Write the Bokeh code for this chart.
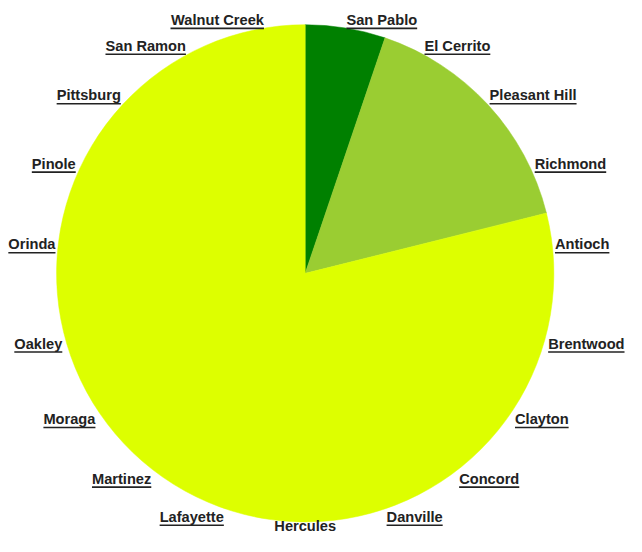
import math
from bokeh.plotting import figure
from bokeh.models import Range1d, ColumnDataSource
from bokeh.core.properties import value
from bokeh.embed import file_html
from bokeh.resources import INLINE

# ---- data ----
slice_names = ["San Pablo", "El Cerrito", "Antioch"]
slice_values = [5.2, 15.9, 78.9]
slice_colors = ["#008000", "#9ACD32", "#DDFF00"]

labels = ["San Pablo", "El Cerrito", "Pleasant Hill", "Richmond", "Antioch",
          "Brentwood", "Clayton", "Concord", "Danville", "Hercules",
          "Lafayette", "Martinez", "Moraga", "Oakley", "Orinda", "Pinole",
          "Pittsburg", "San Ramon", "Walnut Creek"]

# ---- layout: data units = reference pixels (y downward -> negative y) ----
W, H = 626, 536
RW, RH = 642, 552
SX = W / RW
CX, CY = 312.5, 281.0
R = 255
LRX, LRY = 257.0, 264.3
FS = 15 * SX
TEXT_COLOR = "#222222"

# Arial/Liberation Sans Bold advance widths (per 1000 em)
CW = {' ': 278, 'S': 667, 'P': 667, 'E': 667, 'C': 722, 'H': 722, 'R': 722, 'A': 722,
      'B': 722, 'D': 722, 'L': 611, 'M': 833, 'O': 778, 'W': 944,
      'a': 556, 'b': 611, 'c': 556, 'd': 611, 'e': 556, 'f': 333, 'g': 611,
      'h': 611, 'i': 278, 'k': 556, 'l': 278, 'm': 889, 'n': 611, 'o': 611,
      'r': 389, 's': 556, 't': 333, 'u': 611, 'v': 556, 'w': 778, 'y': 556,
      'z': 500, 'x': 556, 'p': 611}


def text_width(s):
    # width in reference pixels (15px font)
    return sum(CW.get(ch, 600) for ch in s) * 15 / 1000.0


p = figure(width=W, height=H, x_range=Range1d(0, RW), y_range=Range1d(-RH, 0),
           output_backend="svg", toolbar_location=None, min_border=0,
           background_fill_color="white", border_fill_color="white")
p.axis.visible = False
p.grid.visible = False
p.outline_line_color = None

# pie wedges, clockwise from 12 o'clock
total = float(sum(slice_values))
starts, ends = [], []
cum = 0.0
for v in slice_values:
    a0 = math.pi / 2 - cum / total * 2 * math.pi
    cum += v
    a1 = math.pi / 2 - cum / total * 2 * math.pi
    starts.append(a1)
    ends.append(a0)

wsrc = ColumnDataSource(dict(x=[CX] * len(slice_values), y=[-CY] * len(slice_values),
                             start=starts, end=ends, color=slice_colors, name=slice_names))
p.wedge(x="x", y="y", radius=R, start_angle="start", end_angle="end",
        direction="anticlock", fill_color="color", line_color="color", line_width=0.5,
        source=wsrc)

# labels evenly spaced around the pie
n = len(labels)
groups = {"left": ([], [], []), "right": ([], [], []), "center": ([], [], [])}
ux0, ux1, uy = [], [], []
for i, lab in enumerate(labels):
    th = (i + 0.5) * 2 * math.pi / n
    s, c = math.sin(th), math.cos(th)
    ax = CX + LRX * s
    ay = CY - LRY * c
    yc = ay - (1 if c > 0 else -1) * 8 * s * s
    yc = min(yc, RH - 11)
    w = text_width(lab)
    if s > 0.02:
        align = "left"
        x0 = ax
    elif s < -0.02:
        align = "right"
        x0 = ax - w
    else:
        align = "center"
        x0 = ax - w / 2
    gx, gy, gt = groups[align]
    gx.append(ax)
    gy.append(-yc)
    gt.append(lab)
    if yc + 12 < RH:
        ux0.append(x0)
        ux1.append(x0 + w)
        uy.append(-(yc + 8.6))

for align, (gx, gy, gt) in groups.items():
    if not gt:
        continue
    p.text(x=gx, y=gy, text=gt, text_align=align, text_baseline="middle",
           text_font=value("Liberation Sans"), text_font_style="bold",
           text_font_size=f"{FS:.2f}px", text_color=TEXT_COLOR)

p.segment(x0=ux0, y0=uy, x1=ux1, y1=uy, line_color=TEXT_COLOR, line_width=1.6)

open("out.html", "w").write(file_html(p, INLINE))
